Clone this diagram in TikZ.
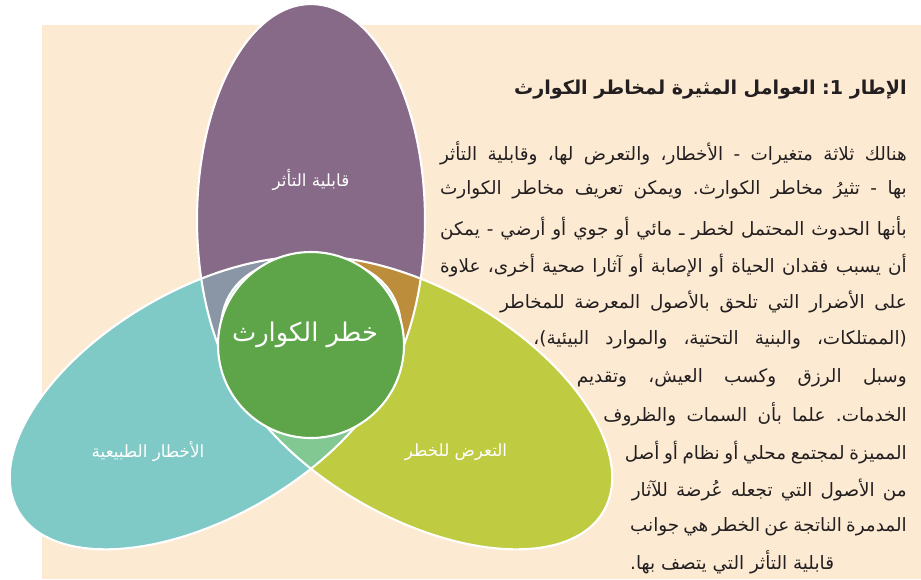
\documentclass[tikz,border=0pt]{standalone}
\usepackage{fontspec}
\newfontfamily\arabicfont[Script=Arabic]{DejaVu Sans}
\TeXXeTstate=1
\frenchspacing
\definecolor{peach}{RGB}{253,234,211}
\definecolor{purp}{RGB}{135,106,136}
\definecolor{aqua}{RGB}{127,202,198}
\definecolor{lime}{RGB}{191,203,65}
\definecolor{slate}{RGB}{138,150,166}
\definecolor{ochre}{RGB}{188,141,59}
\definecolor{mint}{RGB}{130,200,147}
\definecolor{leaf}{RGB}{93,165,72}
\definecolor{ink}{RGB}{35,31,32}
\newcommand{\arline}[2]{\makebox[#1][s]{\arabicfont #2}}
\tikzset{
  rim/.style={draw=white, line width=1.8pt},
  lbl/.style={text=white, inner sep=0pt, font=\arabicfont\fontsize{14.3}{17}\selectfont},
  arln/.style={text=ink, inner sep=0pt, anchor=east, font=\arabicfont\fontsize{15.7}{19}\selectfont},
}
\begin{document}
\begin{tikzpicture}[x=0.03cm, y=-0.03cm]
        \useasboundingbox (0,0) rectangle (921,579);
        \fill[peach] (42,25) rectangle (921,579);

        % three petals, centre of the figure at (311,342)
        \fill[purp] (311,220) ellipse [x radius=114, y radius=216];
        \fill[aqua, rotate around={120:(311,342)}] (311,220) ellipse [x radius=114, y radius=216];
        \fill[lime, rotate around={-120:(311,342)}] (311,220) ellipse [x radius=114, y radius=216];

        % overlaps
        \begin{scope}
            \clip (311,220) ellipse [x radius=114, y radius=216];
            \fill[slate, rotate around={120:(311,342)}] (311,220) ellipse [x radius=114, y radius=216];
        \end{scope}
        \begin{scope}
            \clip (311,220) ellipse [x radius=114, y radius=216];
            \fill[ochre, rotate around={-120:(311,342)}] (311,220) ellipse [x radius=114, y radius=216];
        \end{scope}
        \begin{scope}
            \clip[rotate around={120:(311,342)}] (311,220) ellipse [x radius=114, y radius=216];
            \fill[mint, rotate around={-120:(311,342)}] (311,220) ellipse [x radius=114, y radius=216];
        \end{scope}

        \draw[rim] (311,220) ellipse [x radius=114, y radius=216];
        \draw[rim, rotate around={120:(311,342)}] (311,220) ellipse [x radius=114, y radius=216];
        \draw[rim, rotate around={-120:(311,342)}] (311,220) ellipse [x radius=114, y radius=216];

        \coordinate (risk) at (311,345);
        \draw[rim, fill=leaf] (risk) circle [radius=93];

        \node[lbl] (vuln) at (311,180) {\beginR قابلية التأثر\endR};
        \node[lbl] (hazard) at (148,452) {\beginR الأخطار الطبيعية\endR};
        \node[lbl] (expo) at (456,452) {\beginR التعرض للخطر\endR};
        \node[lbl, font=\arabicfont\fontsize{22}{26}\selectfont] (riskl) at (305,335) {\beginR خطر الكوارث\endR};

        % box text
        \node[arln, font=\arabicfont\fontsize{16.3}{19}\selectfont\bfseries] (title) at (907,90) {\beginR الإطار \beginL 1\endL: العوامل المثيرة لمخاطر الكوارث\endR};
        \node[arln] (l1) at (907,153) {\arline{14.0cm}{\beginR هنالك ثلاثة متغيرات - الأخطار، والتعرض لها، وقابلية التأثر\endR}};
        \node[arln] (l2) at (907,190) {\arline{14.0cm}{\beginR بها - تثيرُ مخاطر الكوارث. ويمكن تعريف مخاطر الكوارث\endR}};
        \node[arln] (l3) at (907,228) {\arline{14.0cm}{\beginR بأنها الحدوث المحتمل لخطر ـ مائي أو جوي أو أرضي - يمكن\endR}};
        \node[arln] (l4) at (907,266) {\arline{14.0cm}{\beginR أن يسبب فقدان الحياة أو الإصابة أو آثارا صحية أخرى، علاوة\endR}};
        \node[arln] (l5) at (907,302) {\arline{12.2cm}{\beginR على الأضرار التي تلحق بالأصول المعرضة للمخاطر\endR}};
        \node[arln] (l6) at (907,340) {\arline{11.2cm}{\beginR (الممتلكات، والبنية التحتية، والموارد البيئية)،\endR}};
        \node[arln] (l7) at (907,378) {\arline{9.9cm}{\beginR وسبل الرزق وكسب العيش، وتقديم\endR}};
        \node[arln] (l8) at (907,414) {\arline{9.1cm}{\beginR الخدمات. علما بأن السمات والظروف\endR}};
        \node[arln] (l9) at (907,453) {\arline{8.46cm}{\beginR المميزة لمجتمع محلي أو نظام أو أصل\endR}};
        \node[arln] (l10) at (907,490) {\arline{8.25cm}{\beginR من الأصول التي تجعله عُرضة للآثار\endR}};
        \node[arln] (l11) at (907,527) {\arline{8.3cm}{\beginR المدمرة الناتجة عن الخطر هي جوانب\endR}};
        \node[arln, anchor=west] (l12) at (630,562) {\beginR قابلية التأثر التي يتصف بها.\endR};
\end{tikzpicture}
\end{document}
